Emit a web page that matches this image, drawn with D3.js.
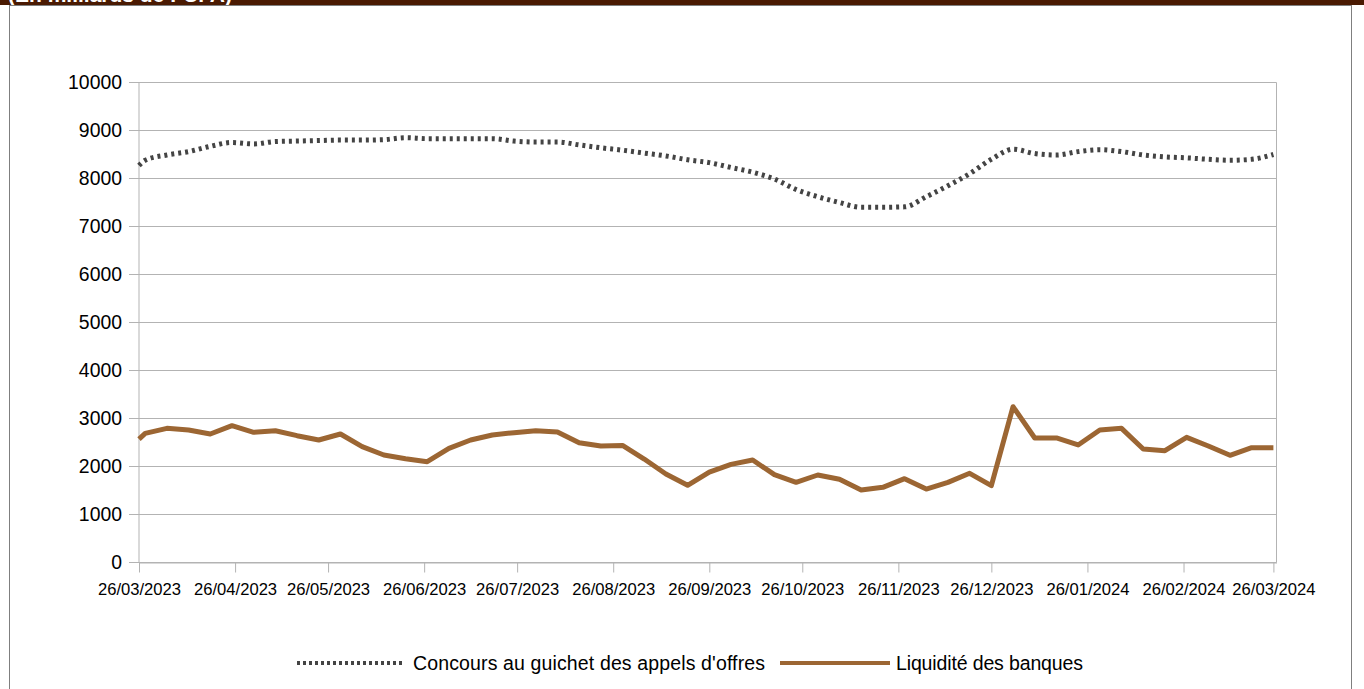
<!DOCTYPE html>
<html>
<head>
<meta charset="utf-8">
<script src="https://cdn.jsdelivr.net/npm/d3@7"></script>
<style>
  body { margin: 0; background: #fff; }
  svg { display: block; font-family: "Liberation Sans", Arial, sans-serif; }
</style>
</head>
<body>
<div id="chart"></div>
<script>
const dates = [
  "2023-03-26", "2023-03-28", "2023-04-04", "2023-04-11", "2023-04-18", "2023-04-25",
  "2023-05-02", "2023-05-09", "2023-05-16", "2023-05-23", "2023-05-30",
  "2023-06-06", "2023-06-13", "2023-06-20", "2023-06-27",
  "2023-07-04", "2023-07-11", "2023-07-18", "2023-07-25",
  "2023-08-01", "2023-08-08", "2023-08-15", "2023-08-22", "2023-08-29",
  "2023-09-05", "2023-09-12", "2023-09-19", "2023-09-26",
  "2023-10-03", "2023-10-10", "2023-10-17", "2023-10-24", "2023-10-31",
  "2023-11-07", "2023-11-14", "2023-11-21", "2023-11-28",
  "2023-12-05", "2023-12-12", "2023-12-19", "2023-12-26",
  "2024-01-02", "2024-01-09", "2024-01-16", "2024-01-23", "2024-01-30",
  "2024-02-06", "2024-02-13", "2024-02-20", "2024-02-27",
  "2024-03-05", "2024-03-12", "2024-03-19", "2024-03-26"
];

// Concours au guichet des appels d'offres
const concours = [
  8270, 8380, 8490, 8560, 8670, 8750,
  8720, 8770, 8780, 8790, 8800,
  8800, 8810, 8850, 8830,
  8830, 8830, 8830, 8780,
  8760, 8760, 8700, 8640, 8590,
  8530, 8470, 8390, 8330,
  8230, 8130, 7990, 7770, 7620,
  7500, 7400, 7400, 7410,
  7620, 7850, 8100, 8400,
  8610, 8520, 8490, 8560, 8600,
  8560, 8490, 8450, 8430,
  8400, 8380, 8400, 8500
];

// Liquidité des banques
const liquidite = [
  2570, 2690, 2795, 2760, 2677, 2850,
  2712, 2746, 2642, 2552, 2677,
  2413, 2240, 2163, 2100,
  2378, 2552, 2656, 2705,
  2746, 2719, 2496, 2427, 2440,
  2156, 1844, 1608, 1885,
  2045, 2135, 1830, 1670, 1823,
  1733, 1510, 1566, 1746,
  1530, 1670, 1858, 1600,
  3246, 2594, 2594, 2448, 2760,
  2795, 2365, 2330, 2608,
  2427, 2233, 2392, 2392
];

const tickDates = [
  "2023-03-26", "2023-04-26", "2023-05-26", "2023-06-26", "2023-07-26",
  "2023-08-26", "2023-09-26", "2023-10-26", "2023-11-26", "2023-12-26",
  "2024-01-26", "2024-02-26", "2024-03-26"
];
const yTicks = [0, 1000, 2000, 3000, 4000, 5000, 6000, 7000, 8000, 9000, 10000];
const seriesNames = ["Concours au guichet des appels d'offres", "Liquidité des banques"];

const width = 1364, height = 689;
const parse = d3.utcParse("%Y-%m-%d");
const fmt = d3.utcFormat("%d/%m/%Y");

const svg = d3.select("#chart").append("svg")
  .attr("width", width)
  .attr("height", height);

// top banner (title is cut off by the page top, as in the source)
svg.append("rect")
  .attr("x", 0).attr("y", 0)
  .attr("width", width).attr("height", 5)
  .attr("fill", "#4a1a02");
svg.append("text")
  .attr("x", 8).attr("y", 2)
  .attr("fill", "#fff")
  .attr("font-weight", "bold")
  .attr("font-size", 21)
  .text("(En milliards de FCFA)");
svg.append("rect")
  .attr("x", 9.5).attr("y", 5.5)
  .attr("width", 1342).attr("height", 700)
  .attr("fill", "none")
  .attr("stroke", "#7f7f7f");

const plotLeft = 139, plotRight = 1276.5, plotTop = 82.5, plotBottom = 562.5;

const x = d3.scaleUtc()
  .domain([parse("2023-03-26"), parse("2024-03-27")])
  .range([plotLeft, plotRight]);
const y = d3.scaleLinear()
  .domain([0, 10000])
  .range([plotBottom, plotTop]);

// gridlines
svg.append("g")
  .selectAll("line")
  .data(yTicks)
  .join("line")
  .attr("x1", plotLeft - 10).attr("x2", plotRight)
  .attr("y1", d => y(d)).attr("y2", d => y(d))
  .attr("stroke", "#b3b3b3");

// plot border lines
svg.append("line")
  .attr("x1", plotLeft).attr("x2", plotLeft)
  .attr("y1", plotTop).attr("y2", plotBottom)
  .attr("stroke", "#b3b3b3");
svg.append("line")
  .attr("x1", plotRight).attr("x2", plotRight)
  .attr("y1", plotTop).attr("y2", plotBottom)
  .attr("stroke", "#b3b3b3");

// y labels
svg.append("g")
  .selectAll("text")
  .data(yTicks)
  .join("text")
  .attr("x", 122)
  .attr("y", d => y(d))
  .attr("dy", "0.35em")
  .attr("text-anchor", "end")
  .attr("font-size", 19.4)
  .attr("fill", "#000")
  .text(d => d);

// x axis
const xAxis = d3.axisBottom(x)
  .tickValues(tickDates.map(parse))
  .tickFormat(fmt)
  .tickSize(10)
  .tickSizeOuter(0);
const gx = svg.append("g")
  .attr("transform", `translate(0,${plotBottom})`)
  .call(xAxis);
gx.select(".domain").attr("stroke", "#b3b3b3");
gx.selectAll(".tick line").attr("stroke", "#b3b3b3");
gx.selectAll(".tick text")
  .attr("font-family", "Liberation Sans, Arial, sans-serif")
  .attr("font-size", 16.6)
  .attr("fill", "#000")
  .attr("y", 21);

const rows = dates.map((d, i) => ({ date: parse(d), c: concours[i], l: liquidite[i] }));

// series lines
svg.append("path")
  .datum(rows)
  .attr("fill", "none")
  .attr("stroke", "#444444")
  .attr("stroke-width", 5)
  .attr("stroke-dasharray", "3,4")
  .attr("d", d3.line().x(d => x(d.date)).y(d => y(d.c)).curve(d3.curveMonotoneX));

svg.append("path")
  .datum(rows)
  .attr("fill", "none")
  .attr("stroke", "#9c6633")
  .attr("stroke-width", 5)
  .attr("stroke-linejoin", "round")
  .attr("d", d3.line().x(d => x(d.date)).y(d => y(d.l)));

// legend
const legendY = 663;
const legend = svg.append("g");
legend.append("line")
  .attr("x1", 297).attr("x2", 405)
  .attr("y1", legendY).attr("y2", legendY)
  .attr("stroke", "#444444")
  .attr("stroke-width", 4)
  .attr("stroke-dasharray", "3,3");
legend.append("text")
  .attr("x", 413).attr("y", legendY)
  .attr("dy", "0.35em")
  .attr("font-size", 19.5)
  .attr("textLength", 352)
  .text(seriesNames[0]);
legend.append("line")
  .attr("x1", 780).attr("x2", 890)
  .attr("y1", legendY).attr("y2", legendY)
  .attr("stroke", "#9c6633")
  .attr("stroke-width", 4);
legend.append("text")
  .attr("x", 896).attr("y", legendY)
  .attr("dy", "0.35em")
  .attr("font-size", 19.5)
  .attr("textLength", 187)
  .text(seriesNames[1]);
</script>
</body>
</html>
